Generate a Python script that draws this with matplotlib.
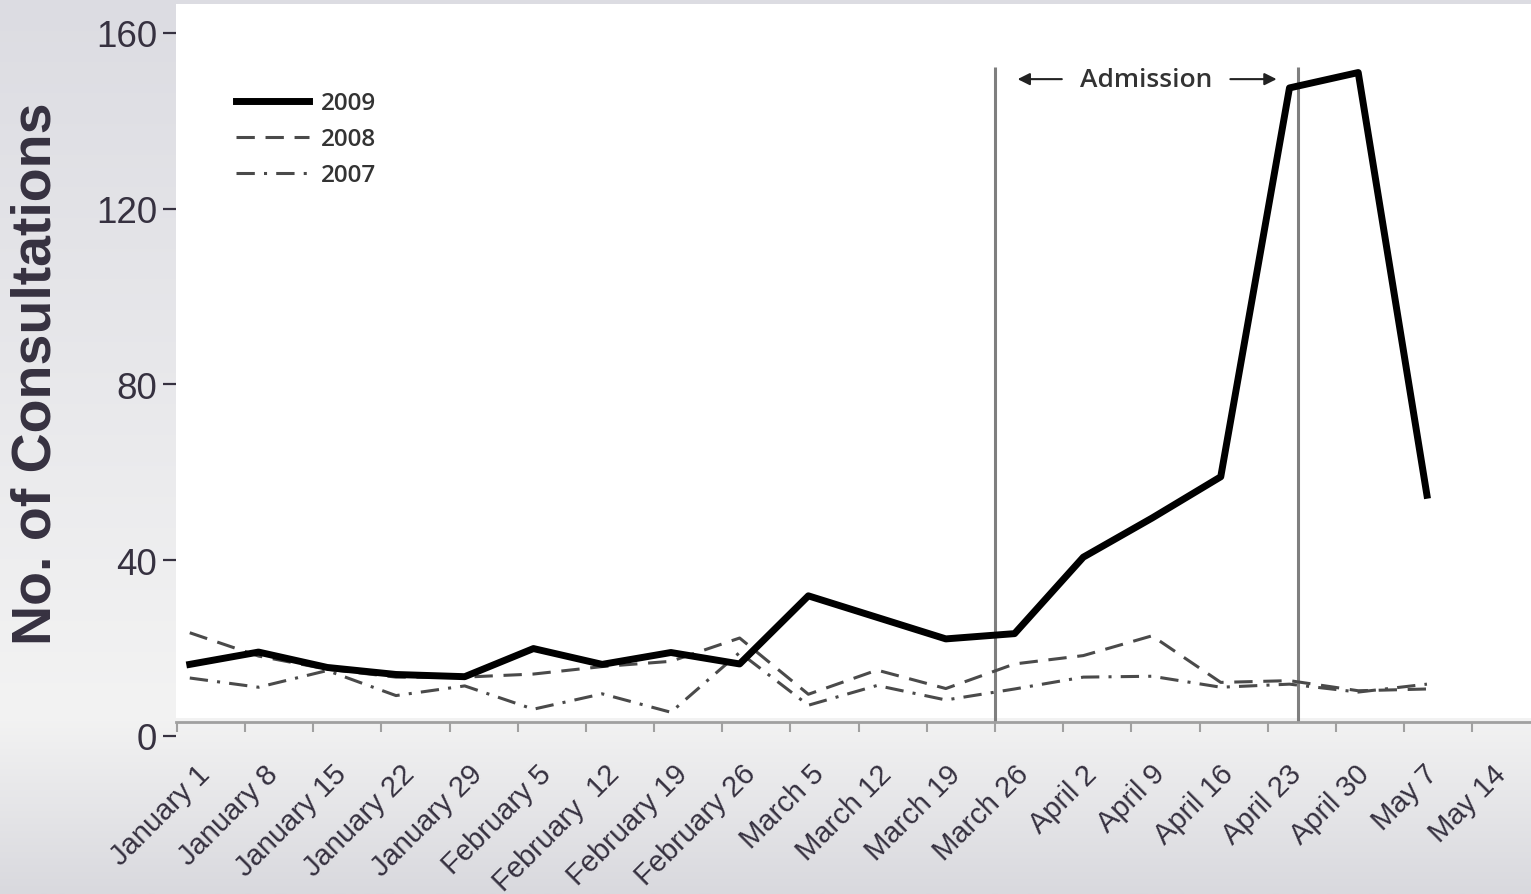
import numpy as np
import matplotlib
matplotlib.use("Agg")
import matplotlib.pyplot as plt
from matplotlib.transforms import ScaledTranslation

# Semanas (etiquetas del eje x)
semanas = ["January 1", "January 8", "January 15", "January 22", "January 29",
           "February 5", "February  12", "February 19", "February 26",
           "March 5", "March 12", "March 19", "March 26",
           "April 2", "April 9", "April 16", "April 23", "April 30",
           "May 7", "May 14"]

# Consultas por semana (January 1 .. May 7)
y2009 = [16.3, 19.1, 15.6, 14.0, 13.5, 19.9, 16.3, 19.0, 16.4, 31.9,
         27.0, 22.1, 23.3, 40.7, 49.6, 59.0, 147.5, 151.0, 54.8]
y2008 = [23.5, 18.2, 15.2, 13.4, 13.4, 14.1, 15.8, 17.0, 22.3, 9.5,
         15.0, 10.8, 16.4, 18.3, 22.8, 12.2, 12.6, 10.3, 10.7]
y2007 = [13.2, 11.1, 14.9, 9.2, 11.4, 6.1, 9.6, 5.4, 19.0, 7.0,
         11.5, 8.2, 10.7, 13.4, 13.6, 11.1, 11.8, 10.0, 11.8]

ticks_y = [0, 40, 80, 120, 160]
admision = [12, 16.44]  # lineas verticales (en posiciones de semana)

texto = "#363140"

# la grafica escaneada esta un poco desplazada respecto a las marcas
x_shift = 0.19
x_stretch = 1.008
x = x_shift + x_stretch * np.arange(len(y2009))

fig = plt.figure(figsize=(15.31, 8.95), dpi=100)

# fondo degradado
bg = fig.add_axes([0, 0, 1, 1], zorder=-10)
filas = np.linspace(0, 1, 400)
paradas = [0.0, 0.8, 1.0]
colores = np.array([[220, 220, 226], [243, 243, 243], [217, 217, 222]]) / 255
grad = np.stack([np.interp(filas, paradas, colores[:, c]) for c in range(3)], axis=1)
bg.imshow(grad[:, None, :], aspect="auto", extent=[0, 1, 0, 1])
bg.axis("off")

ax = fig.add_axes([176 / 1531, (895 - 737) / 895, 1355 / 1531, 732 / 895])
ax.set_facecolor("none")
ax.set_xlim(-0.012, 19.86)
ax.set_ylim(0, 166.6)
ax.axhspan(4.2, 166.6, color="white", zorder=0, lw=0)

ax.plot(x, y2009, color="black", lw=5, label="2009", zorder=4)
ax.plot(x, y2008, color="#4a4a4a", lw=2.2, linestyle=(0, (6, 3.5)), label="2008", zorder=3)
ax.plot(x, y2007, color="#4a4a4a", lw=2.2, linestyle=(0, (6, 3, 1, 3)), label="2007", zorder=3)

# periodo de admision
ax.vlines(admision, 3.2, 152.3, color="#7f7f7f", lw=2.2, zorder=2)
a0, a1 = admision
flecha = dict(arrowstyle="-|>", color="#222222", lw=1.5, mutation_scale=18)
ax.annotate("", xy=(a0 + 0.29, 149.5), xytext=(a0 + 1.02, 149.5), arrowprops=flecha)
ax.annotate("", xy=(a1 - 0.27, 149.5), xytext=(a1 - 1.03, 149.5), arrowprops=flecha)
ax.text((a0 + a1) / 2 - 0.01, 149.5, "Admission", ha="center", va="center",
        fontsize=19, family="Open Sans", fontweight="semibold", color="#333333")

# ejes
for lado in ["top", "right", "left"]:
    ax.spines[lado].set_visible(False)
ax.spines["bottom"].set_position(("data", 3.2))
ax.spines["bottom"].set_color("#a0a0a0")
ax.spines["bottom"].set_linewidth(2)

ax.set_xticks(range(len(semanas)))
ax.set_xticklabels(semanas, rotation=45, ha="right", va="center",
                   rotation_mode="anchor", fontsize=21, color=texto,
                   family="Liberation Sans")
ax.tick_params(axis="x", direction="out", length=7, width=1.5, color="#a0a0a0", pad=27)
desplazar = ScaledTranslation(29 / 100, 0, fig.dpi_scale_trans)
for etiqueta in ax.get_xticklabels():
    etiqueta.set_transform(etiqueta.get_transform() + desplazar)

ax.set_yticks(ticks_y)
ax.set_yticklabels([str(v) for v in ticks_y], fontsize=26.5, color=texto,
                   family="Liberation Sans")
ax.tick_params(axis="y", direction="out", length=9.5, width=1.6, color=texto, pad=4)

fig.text(37 / 1531, 1 - 374 / 895, "No. of Consultations", rotation=90,
         ha="center", va="center", fontsize=40, fontweight="bold",
         color=texto, family="Liberation Sans")

ax.legend(loc="upper left", bbox_to_anchor=(0.0443, 0.8805), frameon=False,
          borderpad=0, borderaxespad=0, handlelength=3.0, handletextpad=0.5,
          labelspacing=0.49, labelcolor="#333333",
          prop=dict(family="Open Sans", size=17.5, weight="semibold"))

plt.savefig("out.png", dpi=100)
